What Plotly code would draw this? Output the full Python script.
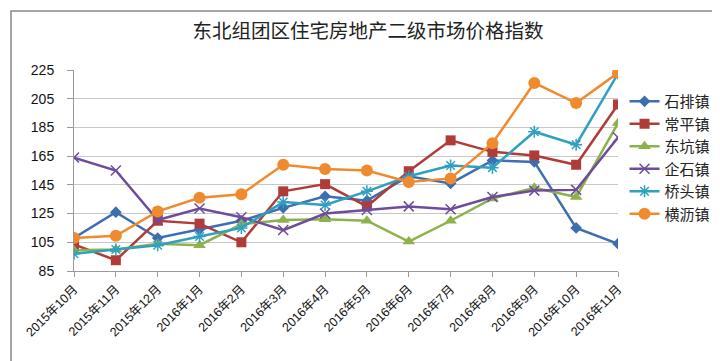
import plotly.graph_objects as go

categories = ["2015年10月", "2015年11月", "2015年12月", "2016年1月", "2016年2月", "2016年3月",
              "2016年4月", "2016年5月", "2016年6月", "2016年7月", "2016年8月", "2016年9月",
              "2016年10月", "2016年11月"]

shipai = [108, 126, 108, 114, 120, 129, 137, 134, 151, 146, 162, 161, 115, 104]
changping = [103.5, 92.5, 120, 118, 105, 140.5, 145.5, 130, 154.5, 176, 168, 165.5, 159, 201]
dongkeng = [99.5, 100, 104, 103, 117.5, 120.5, 121, 120, 105.5, 120, 135.5, 143, 136.5, 188]
qishi = [164, 155, 120.5, 128.5, 122.5, 113.5, 125, 127.5, 130, 128, 136.5, 141, 141.5, 178]
qiaotou = [97, 100, 103, 109, 115, 133, 131, 140.5, 151, 158.5, 157, 182, 173, 222.5]
hengli = [108, 109.5, 126.5, 136, 138.5, 159, 156, 155, 147, 149.5, 174, 216, 202, 223]

yticks = [85, 105, 125, 145, 165, 185, 205, 225]

series = [
    ("石排镇", shipai, "#3C6EB0", dict(symbol="diamond", size=9)),
    ("常平镇", changping, "#B03C3A", dict(symbol="square", size=10)),
    ("东坑镇", dongkeng, "#8DB14B", dict(symbol="triangle-up", size=11)),
    ("企石镇", qishi, "#6E4C9C", dict(symbol="x-thin-open", size=10)),
    ("桥头镇", qiaotou, "#2FA0BF", dict(symbol="asterisk-open", size=10)),
    ("横沥镇", hengli, "#F08A2E", dict(symbol="circle", size=12)),
]

fig = go.Figure()
x_idx = list(range(len(categories)))
for name, vals, color, mk in series:
    marker = dict(color=color, **mk)
    if mk["symbol"].endswith("open"):
        marker["line"] = dict(color=color, width=1.5)
    fig.add_trace(go.Scatter(
        x=x_idx, y=vals, name=name, mode="lines+markers", legendgroup=name,
        line=dict(color=color, width=2.5), marker=marker,
    ))

W, H = 720, 361
ml, mr, mt, mb = 66, 110, 62, 98
pw, ph = W - ml - mr, H - mt - mb

fig.update_layout(
    width=W, height=H,
    margin=dict(l=ml, r=mr, t=mt, b=mb),
    paper_bgcolor="white", plot_bgcolor="white",
    font=dict(family="Liberation Sans, Noto Sans CJK SC", color="#222", size=12),
    title=dict(text="东北组团区住宅房地产二级市场价格指数", x=(360) / W, xanchor="center",
               y=1 - 23 / H, yanchor="middle",
               font=dict(family="Noto Sans CJK SC", size=19.5, color="#222")),
    showlegend=True,
    legend=dict(x=1.012, y=0.925, xanchor="left", yanchor="top",
                font=dict(family="Noto Sans CJK SC", size=15, color="#222"),
                bgcolor="rgba(0,0,0,0)", tracegroupgap=0, traceorder="grouped"),
    shapes=[dict(type="rect", xref="paper", yref="paper",
                 x0=(3 - ml) / pw, x1=(716 - ml) / pw,
                 y0=(H - mb - 357) / ph, y1=(H - mb - 3) / ph,
                 line=dict(color="#888", width=1.5), fillcolor="rgba(0,0,0,0)", layer="below")],
)
fig.update_xaxes(
    range=[0, len(categories) - 1], tickmode="array", tickvals=x_idx, ticktext=categories,
    tickangle=-45, showgrid=False, showline=True, linecolor="#999", linewidth=1,
    ticks="outside", ticklen=5, tickcolor="#999",
    tickfont=dict(size=12.5, family="Liberation Sans, Noto Sans CJK SC", color="#111"),
    zeroline=False,
)
fig.update_yaxes(
    range=[85, 225], tickmode="array", tickvals=yticks, showgrid=True, gridcolor="#C8C8C8",
    gridwidth=1, showline=True, linecolor="#999", linewidth=1, ticks="outside", ticklen=6,
    tickcolor="#999", zeroline=False, tickfont=dict(size=14, color="#111"),
    ticklabelstandoff=10,
)

fig.write_html("out.html")
